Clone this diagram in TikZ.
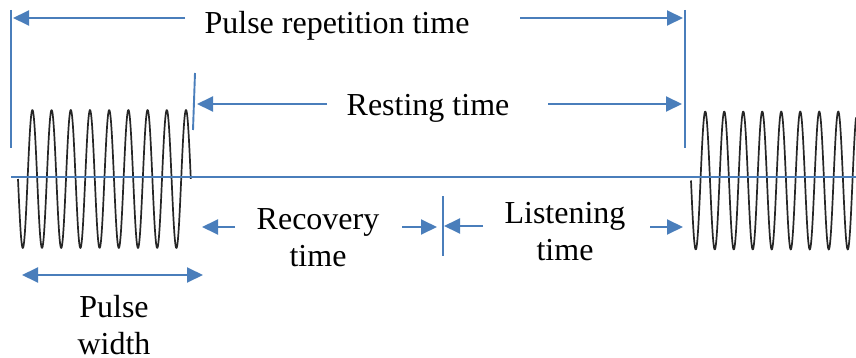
\documentclass[tikz,border=0pt]{standalone}
\usepackage{fontspec}
\setmainfont{Liberation Serif}
\usetikzlibrary{arrows.meta}
\definecolor{lineblue}{HTML}{4A7EBB}
\definecolor{wavegray}{HTML}{262626}
\begin{document}
\begin{tikzpicture}[x=0.5pt,y=-0.5pt,
  blueline/.style={draw=lineblue, line width=0.95pt},
  arr/.style={blueline, -{Triangle[length=8pt,width=7.5pt]}},
  dbl/.style={blueline, {Triangle[length=8pt,width=7.5pt]}-{Triangle[length=8pt,width=7.5pt]}},
  wave/.style={draw=wavegray, line width=0.85pt, line join=round},
  lbl/.style={font=\fontsize{16}{18.5}\selectfont, inner sep=0pt, align=center, anchor=base}]
\useasboundingbox (0,0) rectangle (856,358);

% waves
\draw[wave] plot[domain=18:190.8, samples=400] (\x, {179 + 69*sin(18.75*(\x-18))});
\draw[wave] plot[domain=691:856, samples=400] (\x, {180.5 + 69*sin(18.947*(\x-691))});

% coordinates
\coordinate (axL) at (11,177);
\coordinate (axR) at (856,177);
\coordinate (vLt) at (11,10);
\coordinate (vLb) at (11,148);
\coordinate (vRt) at (685,10);
\coordinate (vRb) at (685,148);
\coordinate (sT) at (195,73);
\coordinate (sB) at (193,130);
\coordinate (dT) at (443,196);
\coordinate (dB) at (443,256);
\coordinate (prtA) at (185,18);
\coordinate (prtAt) at (13,18);
\coordinate (prtB) at (520,18);
\coordinate (prtBt) at (683,18);
\coordinate (resA) at (327,104);
\coordinate (resAt) at (197,104);
\coordinate (resB) at (548,104);
\coordinate (resBt) at (682,104);
\coordinate (recA) at (235,227);
\coordinate (recAt) at (202,227);
\coordinate (recB) at (402,227);
\coordinate (recBt) at (437,227);
\coordinate (lisA) at (483,226);
\coordinate (lisAt) at (444,226);
\coordinate (lisB) at (650,227);
\coordinate (lisBt) at (683,227);
\coordinate (pwL) at (22,275);
\coordinate (pwR) at (203,275);

% blue lines
\draw[blueline] (axL) -- (axR);
\draw[blueline] (vLt) -- (vLb);
\draw[blueline] (vRt) -- (vRb);
\draw[blueline] (sT) -- (sB);
\draw[blueline] (dT) -- (dB);

% arrows
\draw[arr] (prtA) -- (prtAt);
\draw[arr] (prtB) -- (prtBt);
\draw[arr] (resA) -- (resAt);
\draw[arr] (resB) -- (resBt);
\draw[arr] (recA) -- (recAt);
\draw[arr] (recB) -- (recBt);
\draw[arr] (lisA) -- (lisAt);
\draw[arr] (lisB) -- (lisBt);
\draw[dbl] (pwL) -- (pwR);

% labels (base anchor = baseline of the last line)
\node[lbl] (prt) at (337,34) {Pulse repetition time};
\node[lbl] (rest) at (428,116) {Resting time};
\node[lbl] (rec) at (318,266) {Recovery\\time};
\node[lbl] (lis) at (565,260) {Listening\\time};
\node[lbl] (pw) at (114,354) {Pulse\\width};
\end{tikzpicture}
\end{document}
